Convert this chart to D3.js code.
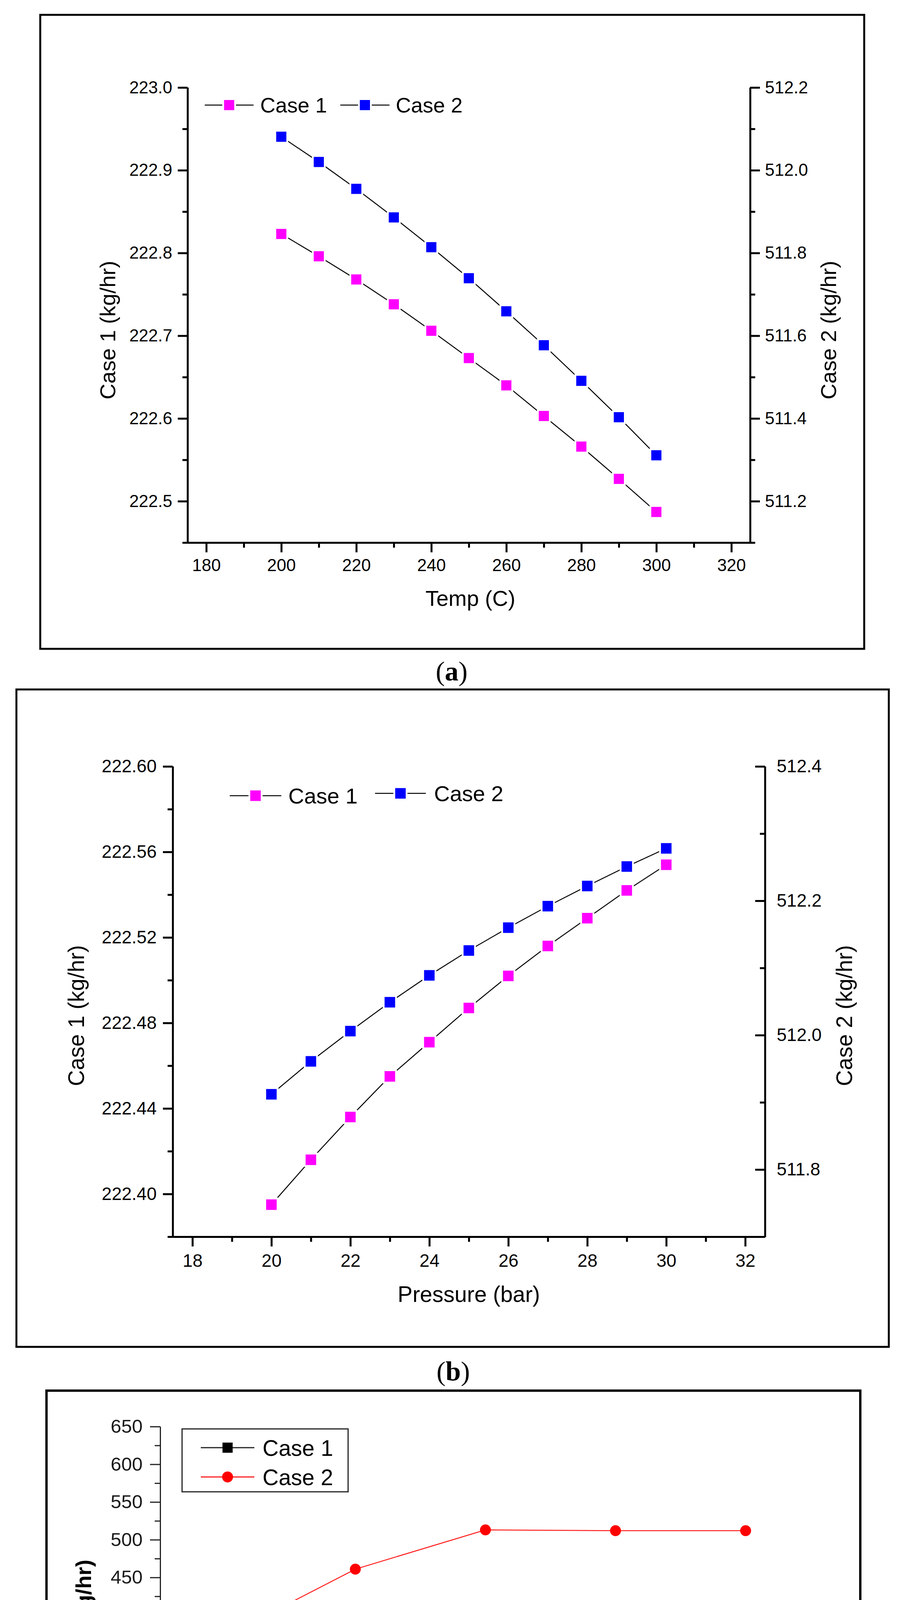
<!DOCTYPE html>
<html>
<head>
<meta charset="utf-8">
<script src="https://cdn.jsdelivr.net/npm/d3@7"></script>
<style>
  body { margin: 0; background: #fff; }
  svg text { font-family: "Liberation Sans", Arial, sans-serif; }
  .caption { font-family: "Liberation Serif", "Times New Roman", serif; }
</style>
</head>
<body>
<div id="chart"></div>
<script>
// ---- data: (a) temperature sweep
const tempC = [200, 210, 220, 230, 240, 250, 260, 270, 280, 290, 300];
const tempCase1 = [222.823, 222.796, 222.768, 222.738, 222.706, 222.673, 222.640, 222.603, 222.566, 222.527, 222.487];
const tempCase2 = [512.081, 512.020, 511.955, 511.886, 511.814, 511.739, 511.659, 511.577, 511.491, 511.403, 511.311];

// ---- data: (b) pressure sweep
const pressureBar = [20, 21, 22, 23, 24, 25, 26, 27, 28, 29, 30];
const pressureCase1 = [222.395, 222.416, 222.436, 222.455, 222.471, 222.487, 222.502, 222.516, 222.529, 222.542, 222.554];
const pressureCase2 = [511.912, 511.961, 512.006, 512.049, 512.089, 512.126, 512.160, 512.192, 512.222, 512.251, 512.278];

// ---- data: (c) H2O/PS ratio
const ratioH2OPS = [0.5, 1.0, 1.5, 2.0, 2.5];
const ratioCase1 = [12, 147, 221, 224, 224];
const ratioCase2 = [372, 461, 513, 512, 512];

// ---- tick values
const tempTicks = [180, 200, 220, 240, 260, 280, 300, 320];
const tempMinor = [190, 210, 230, 250, 270, 290, 310];
const tempLeftTicks = [222.5, 222.6, 222.7, 222.8, 222.9, 223.0];
const tempLeftMinor = [222.45, 222.55, 222.65, 222.75, 222.85, 222.95];
const tempRightTicks = [511.2, 511.4, 511.6, 511.8, 512.0, 512.2];
const tempRightMinor = [511.1, 511.3, 511.5, 511.7, 511.9, 512.1];

const pressTicks = [18, 20, 22, 24, 26, 28, 30, 32];
const pressMinor = [19, 21, 23, 25, 27, 29, 31];
const pressLeftTicks = [222.40, 222.44, 222.48, 222.52, 222.56, 222.60];
const pressLeftMinor = [222.38, 222.42, 222.46, 222.50, 222.54, 222.58];
const pressRightTicks = [511.8, 512.0, 512.2, 512.4];
const pressRightMinor = [511.7, 511.9, 512.1, 512.3];

const ratioTicks = [0.5, 1.0, 1.5, 2.0, 2.5];
const ratioMinor = [0.25, 0.75, 1.25, 1.75, 2.25, 2.75];
const prodTicks = [-50, 0, 50, 100, 150, 200, 250, 300, 350, 400, 450, 500, 550, 600, 650];
const prodMinor = [-25, 25, 75, 125, 175, 225, 275, 325, 375, 425, 475, 525, 575, 625];

const svg = d3.select('#chart').append('svg')
    .attr('width', 2319)
    .attr('height', 5366);

function frame(x0, y0, x1, y1, w) {
  svg.append('rect')
      .attr('x', x0).attr('y', y0)
      .attr('width', x1 - x0).attr('height', y1 - y0)
      .attr('fill', 'none').attr('stroke', '#000').attr('stroke-width', w);
}

function caption(letter, x, y) {
  const t = svg.append('text').attr('class', 'caption')
      .attr('x', x).attr('y', y)
      .attr('text-anchor', 'middle')
      .style('font-size', '70px');
  t.append('tspan').text('(');
  t.append('tspan').attr('font-weight', 'bold').text(letter);
  t.append('tspan').text(')');
}

// draw a major + minor axis pair at a translate
function drawAxis(axisFn, scale, major, minor, fmt, opt) {
  const g = svg.append('g').attr('transform', opt.at);
  g.append('g').call(axisFn(scale).tickValues(minor).tickSize(opt.minorLen).tickSizeOuter(0).tickFormat(''));
  g.append('g').call(axisFn(scale).tickValues(major).tickSize(opt.majorLen).tickSizeOuter(0)
      .tickPadding(opt.pad).tickFormat(fmt));
  g.selectAll('.domain').attr('stroke', opt.color).attr('stroke-width', opt.width);
  g.selectAll('.tick line').attr('stroke', opt.color).attr('stroke-width', opt.width);
  g.selectAll('g').attr('font-family', null).attr('font-size', opt.font);
  g.selectAll('.tick text').attr('fill', opt.text || '#000');
  return g;
}

function rotLabel(txt, x, y, size, weight) {
  svg.append('text')
      .attr('transform', `translate(${x},${y}) rotate(-90)`)
      .attr('text-anchor', 'middle')
      .attr('font-weight', weight || 'normal')
      .style('font-size', size + 'px')
      .text(txt);
}

function label(txt, x, y, size, weight) {
  svg.append('text')
      .attr('x', x).attr('y', y)
      .attr('text-anchor', 'middle')
      .attr('font-weight', weight || 'normal')
      .style('font-size', size + 'px')
      .text(txt);
}

function series(xs, ys, x, y, color, lineW, lineColor, shape, size, gap) {
  const line = d3.line().x((d, i) => x(xs[i])).y(d => y(d));
  svg.append('path').datum(ys)
      .attr('d', line)
      .attr('fill', 'none')
      .attr('stroke', lineColor)
      .attr('stroke-width', lineW);
  const g = svg.append('g');
  if (shape === 'circle') {
    g.selectAll('circle').data(ys).join('circle')
        .attr('cx', (d, i) => x(xs[i])).attr('cy', d => y(d))
        .attr('r', size / 2).attr('fill', color);
  } else {
    g.selectAll('rect').data(ys).join('rect')
        .attr('x', (d, i) => x(xs[i]) - size / 2).attr('y', d => y(d) - size / 2)
        .attr('width', size).attr('height', size)
        .attr('fill', color)
        .attr('stroke', gap ? '#fff' : 'none')
        .attr('stroke-width', gap ? 9 : 0)
        .style('paint-order', 'stroke');
  }
}

function legendItem(x0, x1, y, color, lineColor, lineW, shape, size, textX, txt, font, gap) {
  svg.append('line').attr('x1', x0).attr('x2', x1).attr('y1', y).attr('y2', y)
      .attr('stroke', lineColor).attr('stroke-width', lineW);
  const cx = (x0 + x1) / 2;
  if (shape === 'circle') {
    svg.append('circle').attr('cx', cx).attr('cy', y).attr('r', size / 2).attr('fill', color);
  } else {
    svg.append('rect').attr('x', cx - size / 2).attr('y', y - size / 2)
        .attr('width', size).attr('height', size).attr('fill', color)
        .attr('stroke', gap ? '#fff' : 'none').attr('stroke-width', gap ? 9 : 0)
        .style('paint-order', 'stroke');
  }
  svg.append('text').attr('x', textX).attr('y', y).attr('dy', '0.36em')
      .style('font-size', font + 'px').text(txt);
}

// ================= (a) =================
{
  const L = 480, R = 1920, T = 224, B = 1389;
  const x = d3.scaleLinear().domain([175, 325]).range([L, R]);
  const yL = d3.scaleLinear().domain([222.45, 223.0]).range([B, T]);
  const yR = d3.scaleLinear().domain([511.1, 512.2]).range([B, T]);
  frame(103, 38, 2212, 1661, 5);
  const base = {color: '#000', width: 5, majorLen: 25, minorLen: 13, font: 44};
  drawAxis(d3.axisBottom, x, tempTicks, tempMinor, d3.format('d'), {...base, at: `translate(0,${B})`, pad: 17});
  drawAxis(d3.axisLeft, yL, tempLeftTicks, tempLeftMinor, d3.format('.1f'), {...base, at: `translate(${L},0)`, pad: 14});
  drawAxis(d3.axisRight, yR, tempRightTicks, tempRightMinor, d3.format('.1f'), {...base, at: `translate(${R},0)`, pad: 13});
  series(tempC, tempCase1, x, yL, '#ff00ff', 2.5, '#000', 'rect', 26, true);
  series(tempC, tempCase2, x, yR, '#0000ff', 2.5, '#000', 'rect', 26, true);
  legendItem(524, 649, 269, '#ff00ff', '#000', 2.5, 'rect', 26, 666, 'Case 1', 54, true);
  legendItem(871, 997, 269, '#0000ff', '#000', 2.5, 'rect', 26, 1013, 'Case 2', 54, true);
  rotLabel('Case 1 (kg/hr)', 295, 845, 56);
  rotLabel('Case 2 (kg/hr)', 2140, 845, 56);
  label('Temp (C)', 1204, 1551, 56);
  caption('a', 1156, 1742);
}

// ================= (b) =================
{
  const L = 442, R = 1958, T = 1962, B = 3166;
  const x = d3.scaleLinear().domain([17.5, 32.5]).range([L, R]);
  const yL = d3.scaleLinear().domain([222.38, 222.60]).range([B, T]);
  const yR = d3.scaleLinear().domain([511.7, 512.4]).range([B, T]);
  frame(42, 1765, 2275, 3448, 5);
  const base = {color: '#000', width: 5, majorLen: 25, minorLen: 13, font: 46};
  drawAxis(d3.axisBottom, x, pressTicks, pressMinor, d3.format('d'), {...base, at: `translate(0,${B})`, pad: 19});
  drawAxis(d3.axisLeft, yL, pressLeftTicks, pressLeftMinor, d3.format('.2f'), {...base, at: `translate(${L},0)`, pad: 16});
  drawAxis(d3.axisRight, yR, pressRightTicks, pressRightMinor, d3.format('.1f'),
      {...base, at: `translate(${R},0)`, majorLen: -25, minorLen: -13, pad: 30});
  series(pressureBar, pressureCase1, x, yL, '#ff00ff', 2.5, '#000', 'rect', 27, true);
  series(pressureBar, pressureCase2, x, yR, '#0000ff', 2.5, '#000', 'rect', 27, true);
  legendItem(588, 720, 2037, '#ff00ff', '#000', 2.5, 'rect', 27, 738, 'Case 1', 56, true);
  legendItem(960, 1090, 2031, '#0000ff', '#000', 2.5, 'rect', 27, 1111, 'Case 2', 56, true);
  rotLabel('Case 1 (kg/hr)', 215, 2600, 57);
  rotLabel('Case 2 (kg/hr)', 2181, 2600, 57);
  label('Pressure (bar)', 1200, 3333, 57);
  caption('b', 1160, 3534);
}

// ================= (c) =================
{
  const L = 410, R = 2075, T = 3652, B = 5004;
  const x = d3.scaleLinear().domain([0.25, 2.75]).range([L, R]);
  const y = d3.scaleLinear().domain([-50, 650]).range([B, T]);
  frame(119, 3560, 2202, 5230, 6);
  const base = {color: '#222', width: 3, majorLen: 26, minorLen: 14, font: 49, text: '#1a1a1a'};
  drawAxis(d3.axisBottom, x, ratioTicks, ratioMinor, d3.format('.1f'), {...base, at: `translate(0,${B})`, pad: 18});
  drawAxis(d3.axisLeft, y, prodTicks, prodMinor, d => String(d), {...base, at: `translate(${L},0)`, pad: 19});
  series(ratioH2OPS, ratioCase1, x, y, '#000', 2, '#222', 'rect', 27, false);
  series(ratioH2OPS, ratioCase2, x, y, '#ff0000', 2.5, '#ff2020', 'circle', 28, false);
  svg.append('rect').attr('x', 466).attr('y', 3658).attr('width', 425).attr('height', 161)
      .attr('fill', 'none').attr('stroke', '#222').attr('stroke-width', 3);
  legendItem(514, 651, 3706, '#000', '#222', 3, 'rect', 26, 672, 'Case 1', 57, false);
  legendItem(514, 651, 3781, '#ff0000', '#ff2020', 3, 'circle', 28, 672, 'Case 2', 57, false);
  rotLabel('Methanol Production (kg/hr)', 233, 4366, 56, 'bold');
  label('H2O/PS', 1242, 5184, 59, 'bold');
  caption('c', 1155, 5322);
}
</script>
</body>
</html>
